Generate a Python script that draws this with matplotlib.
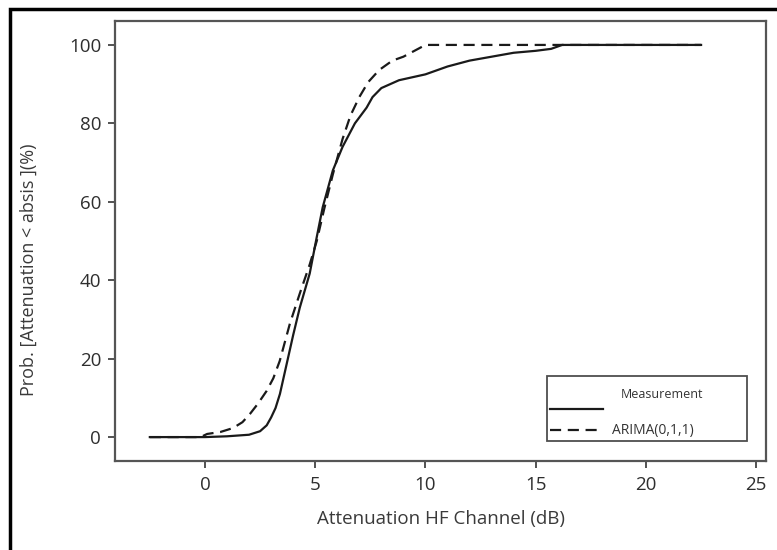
import matplotlib
matplotlib.use('Agg')
import matplotlib.pyplot as plt
from matplotlib.patches import Rectangle
from matplotlib.transforms import ScaledTranslation

plt.rcParams['font.family'] = ['Open Sans', 'DejaVu Sans']

# measured attenuation CDF (solid)
meas_x = [-2.5, 0.0, 1.0, 2.0, 2.5, 2.8, 3.0, 3.2, 3.4, 3.6, 3.8, 4.0, 4.3,
          4.75, 5.07, 5.34, 5.8, 6.24, 6.8, 7.33, 7.6, 8.0, 8.8, 10.0, 11.0,
          12.0, 13.0, 14.0, 15.0, 15.7, 16.2, 22.5]
meas_y = [0, 0, 0.2, 0.6, 1.5, 3, 5, 7.4, 11, 16, 21, 26, 33,
          41.7, 51, 58.6, 68, 74, 80, 84, 86.7, 89, 91, 92.5, 94.5,
          96, 97, 98, 98.5, 99, 100, 100]

# ARIMA(0,1,1) model CDF (dashed)
arima_x = [-2.5, -0.2, 0.1, 0.7, 1.27, 1.7, 2.04, 2.4, 2.8, 3.1, 3.39, 3.85,
           4.3, 4.75, 5.07, 5.4, 5.8, 6.24, 6.6, 7.0, 7.4, 7.9, 8.5, 9.0,
           9.5, 10.0, 22.5]
arima_y = [0, 0, 0.8, 1.3, 2.3, 3.8, 5.9, 8.5, 11.8, 15, 19.4, 28.9,
           36.6, 44, 50, 58, 67, 76, 82, 86.7, 90.5, 93.6, 96, 97,
           98.5, 100, 100]

xticks = [0, 5, 10, 15, 20, 25]
yticks = [0, 20, 40, 60, 80, 100]

dpi = 100
fig = plt.figure(figsize=(777 / dpi, 550 / dpi), dpi=dpi)
ax = fig.add_axes([0.148, 0.1618, 0.838, 0.80])

ax.plot(meas_x, meas_y, color='#1a1a1a', lw=1.6, label='Measurement')
ax.plot(arima_x, arima_y, color='#1a1a1a', lw=1.6, linestyle=(0, (5, 3)),
        label='ARIMA(0,1,1)')

ax.set_xlim(-4.08, 25.45)
ax.set_ylim(-6.1, 106.1)
ax.set_xticks(xticks)
ax.set_yticks(yticks)
ax.tick_params(direction='out', length=5, width=1.3, color='#444444',
               labelsize=13.5, labelcolor='#2e2e2e')
ax.tick_params(axis='x', pad=6)
ax.tick_params(axis='y', pad=5)
for sp in ax.spines.values():
    sp.set_color('#555555')
    sp.set_linewidth(1.6)

ax.set_xlabel('Attenuation HF Channel (dB)', fontsize=13.5, color='#3a3a3a')
ax.set_ylabel('Prob. [Attenuation < absis ](%)', fontsize=13, color='#3a3a3a')
ax.xaxis.set_label_coords(0.5, -0.112)
ax.yaxis.set_label_coords(-0.118, 0.434)

leg = ax.legend(loc='lower left', bbox_to_anchor=(0.664, 0.045, 0.307, 0.157),
                mode='expand', borderaxespad=0, fontsize=10, handlelength=3.8,
                handletextpad=0.65, labelspacing=0.5, borderpad=0.2,
                fancybox=False, frameon=True, title=' ', title_fontsize=14)
leg.get_frame().set_edgecolor('#222222')
leg.get_frame().set_linewidth(1.3)
for t in leg.get_texts():
    t.set_color('#333333')
# "Measurement" sits above and to the right of its line in the original
mt = leg.get_texts()[0]
mt.set_fontsize(9)
mt.set_transform(mt.get_transform() +
                 ScaledTranslation(6 / 72, 11 / 72, fig.dpi_scale_trans))

# black border round the whole picture
fig.patches.append(Rectangle((10 / 777, -0.1), 1.2, 0.1 + 1 - 9 / 550,
                             transform=fig.transFigure, fill=False,
                             edgecolor='black', lw=2.5))

plt.savefig('out.png', dpi=dpi)
